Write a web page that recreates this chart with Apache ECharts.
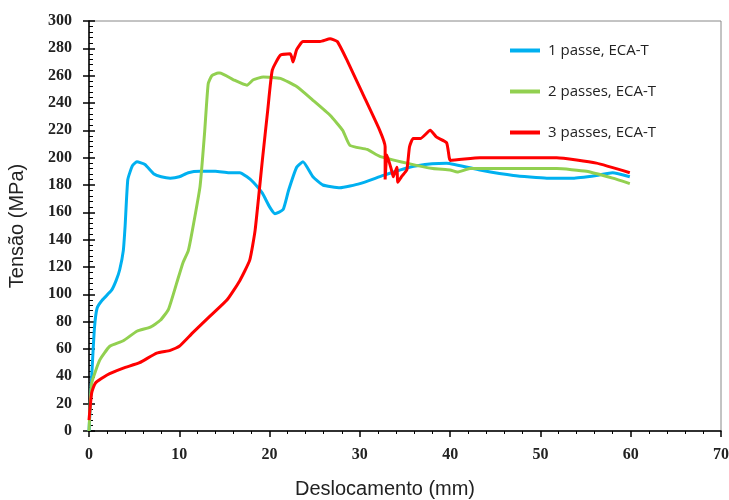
<!DOCTYPE html>
<html>
<head>
<meta charset="utf-8">
<script src="https://cdn.jsdelivr.net/npm/echarts@6/dist/echarts.min.js"></script>
<style>
  html, body { margin: 0; padding: 0; background: #fff; }
  #chart { width: 729px; height: 500px; }
</style>
</head>
<body>
<div id="chart"></div>
<script>
// valores: [deslocamento (mm), tensão (MPa)]
var passe1 = [
  [0, 0], [0.3, 40], [0.6, 75], [0.9, 90], [1.5, 96], [2.5, 103], [3, 110], [3.4, 118],
  [3.8, 132], [4.0, 150], [4.3, 184], [4.8, 194], [5.3, 197], [6.2, 195], [7.2, 188],
  [8, 186], [9, 185], [10, 186], [11, 189], [12.3, 190], [14, 190], [15.5, 189],
  [16.7, 189], [17.5, 186], [18.2, 182], [19.2, 174], [20, 164], [20.6, 159],
  [21.5, 162], [22.1, 176], [23, 193], [23.7, 197], [24.8, 186], [25.9, 180],
  [27.8, 178], [30, 181], [32.6, 187], [35.5, 193], [38, 195.5], [39.6, 196],
  [43.3, 191], [47, 187], [50.7, 185], [53.6, 185], [56.2, 187], [58, 189], [59.9, 186]
];
var passes2 = [
  [0, 0], [0.3, 35], [1.2, 52], [2.3, 62], [3.8, 66], [5.3, 73], [6.8, 76], [7.9, 81],
  [8.8, 89], [9.7, 108], [10.4, 123], [11, 132], [11.4, 145], [12.3, 179], [12.8, 218],
  [13.2, 254], [13.6, 260], [14.3, 262], [14.5, 262], [16, 257], [17.5, 253],
  [18.2, 257], [19.3, 259], [21.2, 258], [23, 252], [24.8, 242], [26.7, 231],
  [28.1, 220], [28.9, 209], [30.8, 206], [32.2, 201], [35.2, 196], [38.1, 192],
  [40, 191], [40.8, 189.5], [42.2, 192], [47, 192], [51.8, 192], [55.1, 190],
  [58, 185], [59.9, 181]
];
var passes3 = [
  [0, 8], [0.3, 28], [0.7, 35], [2, 41], [3.8, 46], [5.6, 50], [7.5, 57], [9, 59],
  [10, 62], [11.5, 72], [13.4, 84], [15.3, 96], [16.7, 110], [17.8, 125], [18.4, 147],
  [19.2, 198], [19.8, 235], [20.3, 264], [21.2, 275], [22.3, 276], [22.6, 270],
  [23, 279], [23.7, 285], [25.6, 285], [26.7, 287], [27.5, 285], [28.6, 271],
  [30.3, 247], [32.2, 220], [32.8, 208], [32.8, 184], [33, 202], [33.5, 191],
  [33.7, 186], [34.1, 193], [34.2, 182], [34.6, 186], [35.2, 191], [35.5, 208],
  [35.9, 214], [36.7, 214], [37.8, 220], [38.5, 215], [39.6, 211], [39.9, 200],
  [40, 198], [43.3, 200], [47, 200], [51.8, 200], [56.2, 196], [59.9, 189]
];
var nomes = ['1 passe, ECA-T', '2 passes, ECA-T', '3 passes, ECA-T'];
var cores = ['#00B0F0', '#92D050', '#FF0000'];

var chart = echarts.init(document.getElementById('chart'));

var tickLabel = { fontFamily: 'Liberation Serif', fontWeight: 'bold', fontSize: 16, color: '#222' };

var option = {
  animation: false,
  grid: {
    left: 89, right: 8, top: 21, bottom: 69, outerBoundsMode: 'none',
    show: true, borderColor: '#888', borderWidth: 1
  },
  legend: {
    orient: 'vertical',
    left: 505,
    top: 38,
    itemWidth: 30,
    itemHeight: 4,
    itemGap: 26,
    icon: 'rect',
    textStyle: { fontFamily: 'Open Sans', fontSize: 15, color: '#222', padding: [0, 0, 0, 3] },
    data: nomes
  },
  xAxis: [{
    type: 'value', min: 0, max: 70, interval: 10,
    name: 'Deslocamento (mm)', nameLocation: 'middle', nameGap: 48,
    nameTextStyle: { fontFamily: 'Liberation Sans', fontSize: 20, color: '#222', padding: [0, 40, 0, 0] },
    axisLine: { show: true, lineStyle: { color: '#000', width: 1.5 } },
    axisTick: { show: true, length: 6, lineStyle: { color: '#000', width: 1.5 } },
    minorTick: { show: true, splitNumber: 5, length: 3, lineStyle: { color: '#000' } },
    splitLine: { show: false },
    axisLabel: Object.assign({ margin: 16 }, tickLabel)
  }],
  yAxis: [{
    type: 'value', min: 0, max: 300, interval: 20,
    name: 'Tensão (MPa)', nameLocation: 'middle', nameGap: 62,
    nameTextStyle: { fontFamily: 'Liberation Sans', fontSize: 20, color: '#222' },
    axisLine: { show: true, lineStyle: { color: '#000', width: 1.5 } },
    axisTick: { show: true, length: 6, lineStyle: { color: '#000', width: 1.5 } },
    minorTick: { show: false },
    splitLine: { show: false },
    axisLabel: Object.assign({ margin: 17 }, tickLabel)
  }, {
    type: 'value', min: 0, max: 300, interval: 20, position: 'left',
    axisLine: { show: false },
    axisTick: { show: true, inside: true, length: 6, lineStyle: { color: '#000', width: 1.5 } },
    minorTick: { show: true, splitNumber: 5, length: 4, lineStyle: { color: '#000' } },
    splitLine: { show: false },
    axisLabel: { show: false }
  }],
  series: [passe1, passes2, passes3].map(function (d, i) {
    return {
      name: nomes[i], type: 'line', data: d, showSymbol: false, smooth: 0.15,
      lineStyle: { color: cores[i], width: 3 }, itemStyle: { color: cores[i] }
    };
  })
};
chart.setOption(option);
</script>
</body>
</html>
